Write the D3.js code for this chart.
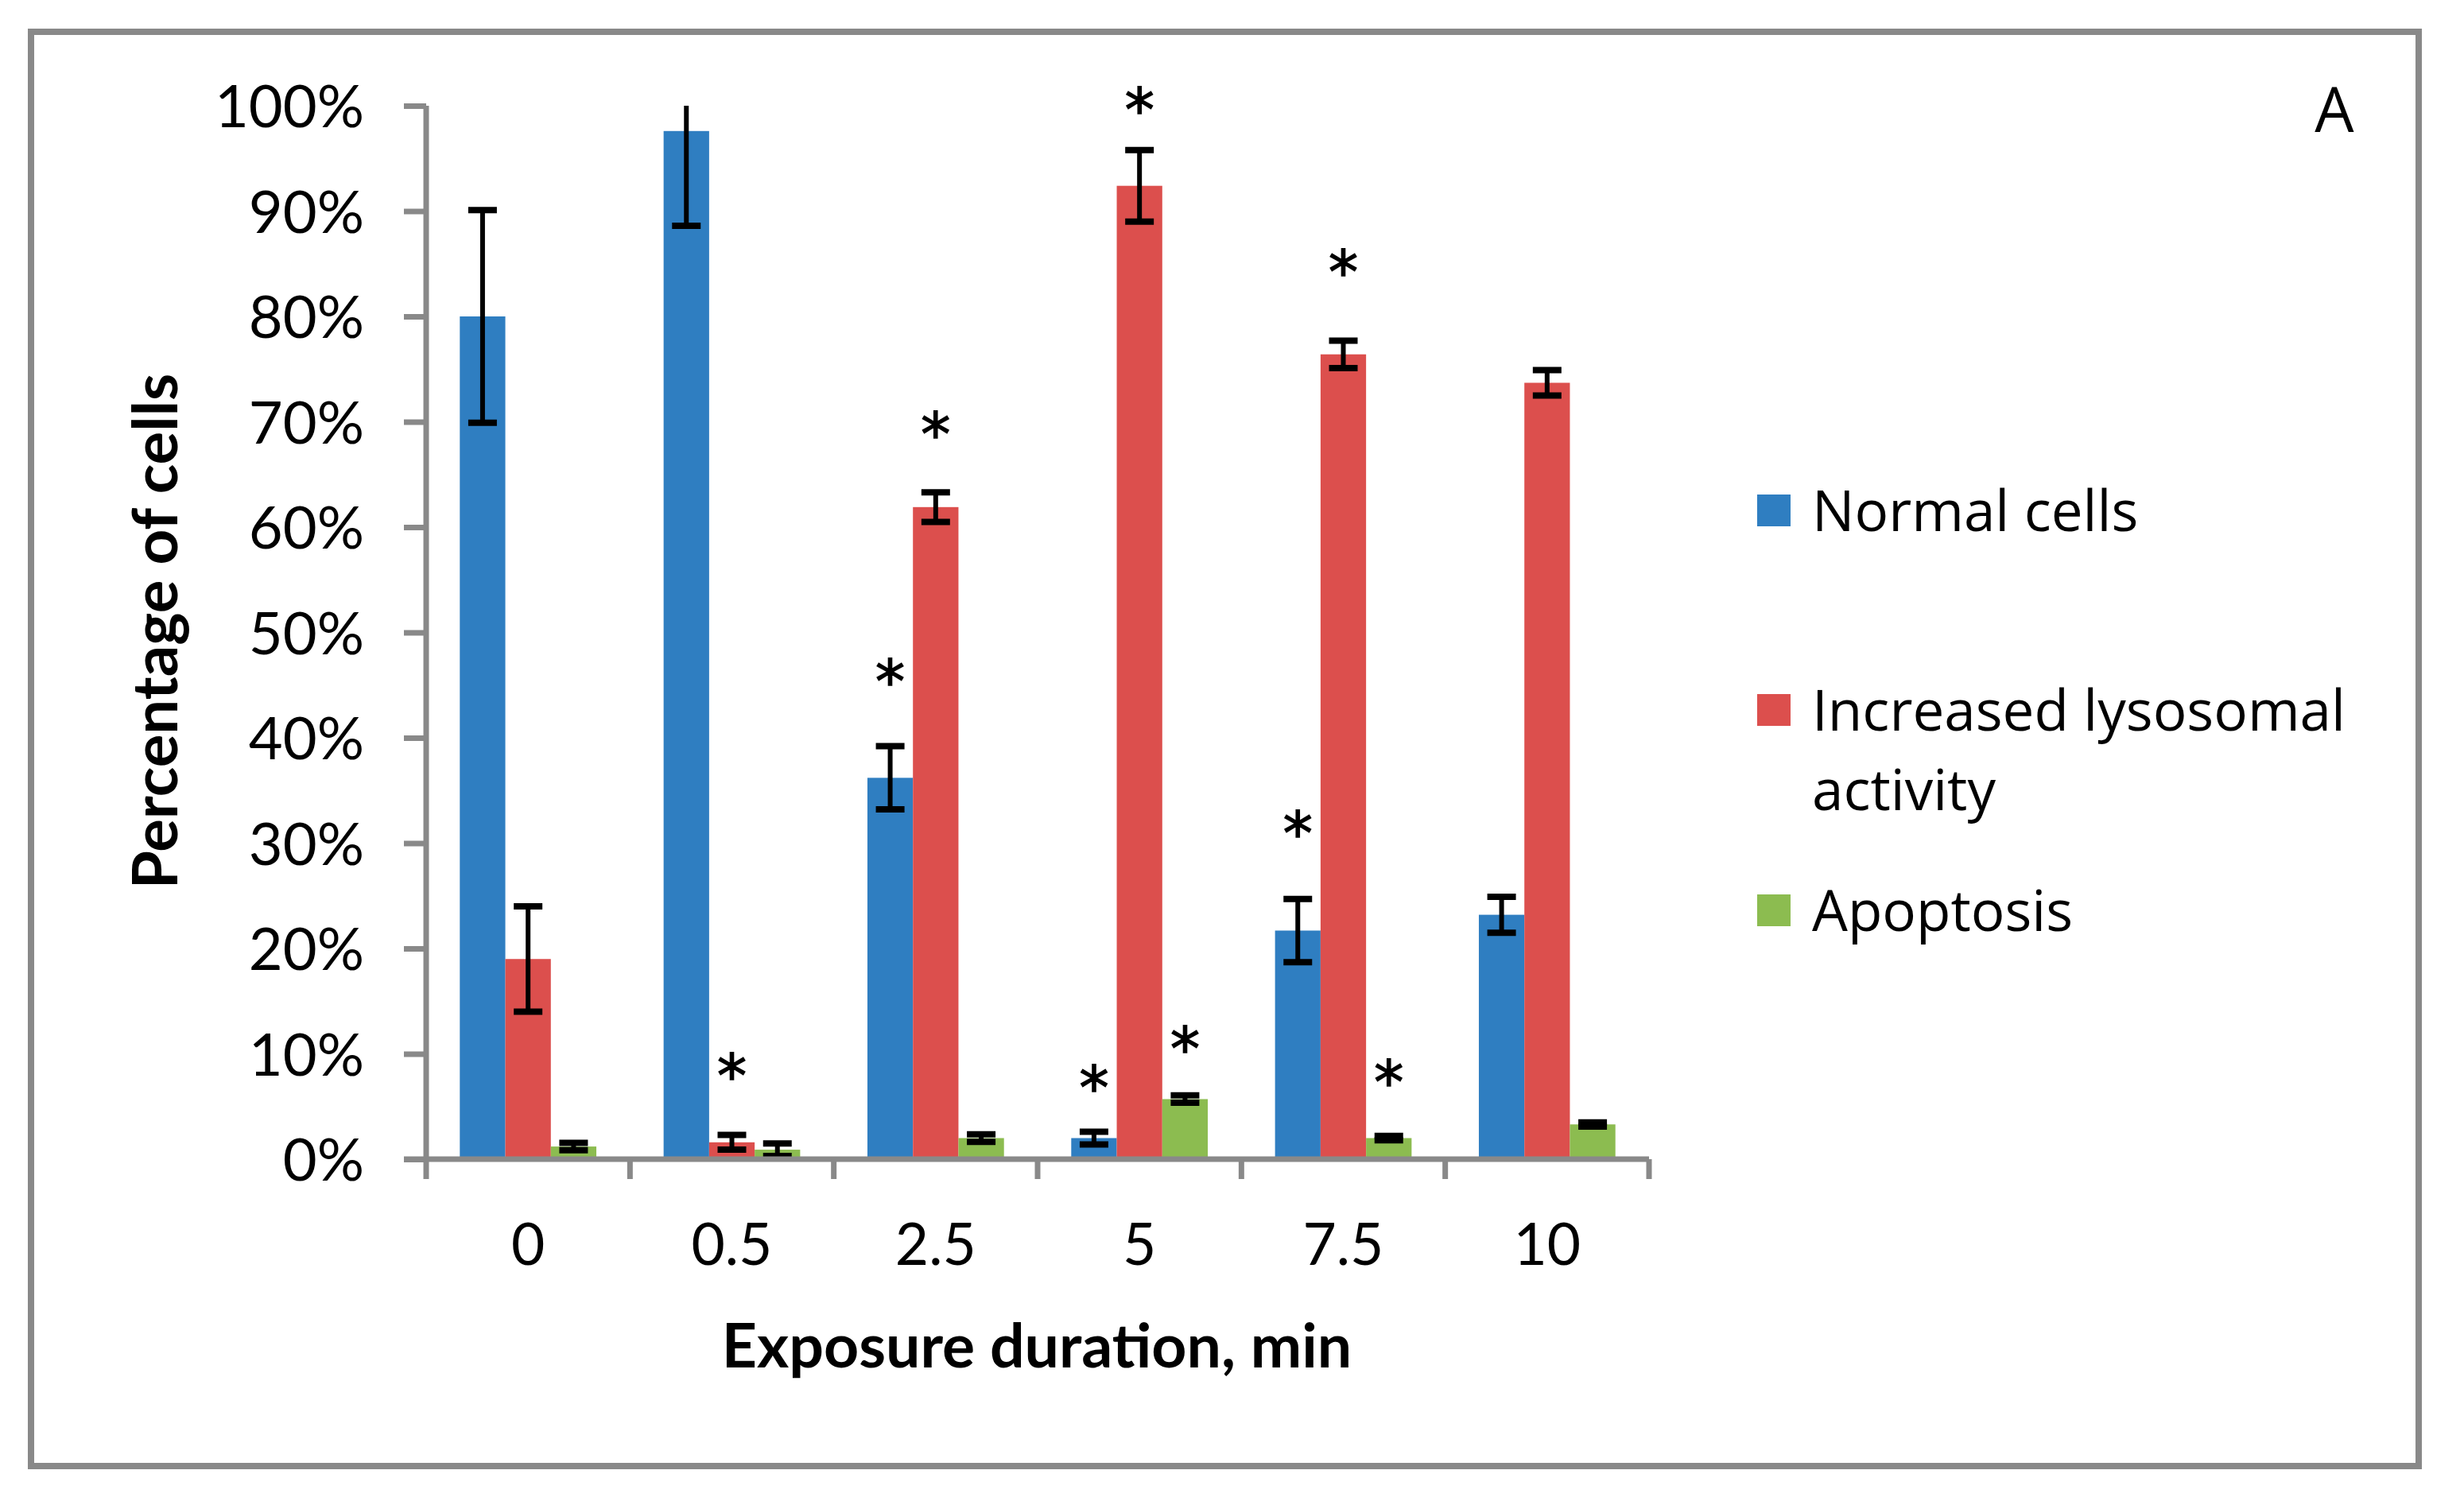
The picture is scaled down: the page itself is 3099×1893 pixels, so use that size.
<!DOCTYPE html>
<html>
<head>
<meta charset="utf-8">
<script src="https://cdn.jsdelivr.net/npm/d3@7"></script>
<style>
  html, body { margin: 0; padding: 0; background: #ffffff; }
  svg { display: block; }
</style>
</head>
<body>
<svg id="chart" width="3099" height="1893"></svg>
<script>
// ---------------- data ----------------
const categories = ["0", "0.5", "2.5", "5", "7.5", "10"];
const seriesNames = ["Normal cells", "Increased lysosomal activity", "Apoptosis"];
const legendLines = [["Normal cells"], ["Increased lysosomal", "activity"], ["Apoptosis"]];
const seriesColors = ["#2f7ec1", "#dc4f4d", "#8cbc50"];

const normalCells     = [80.0, 97.6, 36.2, 2.0, 21.7, 23.2];
const normalErr       = [10.1, 9.0, 3.0, 0.6, 3.0, 1.7];
const lysosomal       = [19.0, 1.6, 61.9, 92.4, 76.4, 73.7];
const lysosomalErr    = [5.0, 0.7, 1.4, 3.4, 1.3, 1.2];
const apoptosis       = [1.2, 0.9, 2.0, 5.7, 2.0, 3.3];
const apoptosisErr    = [0.35, 0.6, 0.35, 0.35, 0.2, 0.2];

// significance asterisks: level (%) of the star centre, null = none
const normalStars     = [null, null, 46.3, 7.7, 31.9, null];
const lysosomalStars  = [null, 8.9, 69.8, 100.6, 85.2, null];
const apoptosisStars  = [null, null, null, 11.4, 8.3, null];

const yTicks = [0, 10, 20, 30, 40, 50, 60, 70, 80, 90, 100];

const xTitle = "Exposure duration, min";
const yTitle = "Percentage of cells";
const panelLabel = "A";

// ---------------- build ----------------
const values = [normalCells, lysosomal, apoptosis];
const errors = [normalErr, lysosomalErr, apoptosisErr];
const stars  = [normalStars, lysosomalStars, apoptosisStars];

const rows = [];
categories.forEach((c, i) => {
  seriesNames.forEach((s, j) => {
    rows.push({cat: c, series: s, si: j, value: values[j][i], err: errors[j][i], star: stars[j][i]});
  });
});

const svg = d3.select("#chart");
const gray = "#898989";

// outer frame
svg.append("rect")
  .attr("x", 39).attr("y", 40).attr("width", 3003).attr("height", 1804)
  .attr("fill", "#ffffff").attr("stroke", gray).attr("stroke-width", 8);

const plotLeft = 536, plotRight = 2074, plotTop = 133, plotBottom = 1458;

const x0 = d3.scaleBand().domain(categories).range([plotLeft, plotRight])
  .paddingInner(0.33).paddingOuter(0.165);
const x1 = d3.scaleBand().domain(seriesNames).range([0, x0.bandwidth()]).padding(0);
const y = d3.scaleLinear().domain([0, 100]).range([plotBottom, plotTop]);

// bars
svg.append("g").selectAll("rect").data(rows).join("rect")
  .attr("x", d => x0(d.cat) + x1(d.series))
  .attr("y", d => y(d.value))
  .attr("width", x1.bandwidth())
  .attr("height", d => y(0) - y(d.value))
  .attr("fill", d => seriesColors[d.si]);

// error bars
const eg = svg.append("g").attr("stroke", "#000000");
const cx = d => x0(d.cat) + x1(d.series) + x1.bandwidth() / 2;
const capHalf = 18;
rows.forEach(d => {
  const hi = Math.min(100, d.value + d.err);
  const lo = Math.max(0, d.value - d.err);
  eg.append("line").attr("x1", cx(d)).attr("x2", cx(d))
    .attr("y1", y(hi)).attr("y2", y(lo)).attr("stroke-width", 6);
  if (d.value + d.err <= 100) {
    eg.append("line").attr("x1", cx(d) - capHalf).attr("x2", cx(d) + capHalf)
      .attr("y1", y(hi)).attr("y2", y(hi)).attr("stroke-width", 8);
  }
  eg.append("line").attr("x1", cx(d) - capHalf).attr("x2", cx(d) + capHalf)
    .attr("y1", y(lo)).attr("y2", y(lo)).attr("stroke-width", 8);
});

// asterisks
svg.append("g").selectAll("text").data(rows.filter(d => d.star !== null)).join("text")
  .attr("x", d => cx(d))
  .attr("y", d => y(d.star))
  .attr("dy", "0.52em")
  .attr("text-anchor", "middle")
  .attr("font-family", "DejaVu Sans")
  .attr("font-size", 74)
  .attr("stroke", "#000000").attr("stroke-width", 1.5)
  .attr("fill", "#000000")
  .text("*");

// y axis
const yAxis = svg.append("g").attr("transform", `translate(${plotLeft},0)`)
  .call(d3.axisLeft(y).tickValues(yTicks).tickSize(28).tickPadding(50)
    .tickFormat(d => d + "%"));
yAxis.select(".domain").attr("stroke", gray).attr("stroke-width", 7)
  .attr("d", `M0,${plotTop}V${plotBottom}`);
yAxis.selectAll(".tick line").attr("stroke", gray).attr("stroke-width", 7);
yAxis.selectAll(".tick text")
  .attr("font-family", "Lato").attr("font-size", 74).attr("fill", "#000000")
  .attr("dy", "0.36em").attr("x", -78);

// x axis
const boundaries = categories.map(c => x0(c) - x0.step() * x0.paddingInner() / 2)
  .concat([plotRight]);
const xg = svg.append("g");
xg.append("line").attr("x1", plotLeft - 28).attr("x2", plotRight)
  .attr("y1", plotBottom).attr("y2", plotBottom)
  .attr("stroke", gray).attr("stroke-width", 7);
xg.selectAll("line.tk").data(boundaries).join("line").attr("class", "tk")
  .attr("x1", d => d).attr("x2", d => d)
  .attr("y1", plotBottom).attr("y2", plotBottom + 25)
  .attr("stroke", gray).attr("stroke-width", 7);
xg.selectAll("text").data(categories).join("text")
  .attr("x", d => x0(d) + x0.bandwidth() / 2)
  .attr("y", 1591)
  .attr("text-anchor", "middle")
  .attr("font-family", "Lato").attr("font-size", 73).attr("fill", "#000000")
  .text(d => d);

// axis titles
svg.append("text")
  .attr("x", 1304).attr("y", 1720)
  .attr("text-anchor", "middle")
  .attr("font-family", "Lato").attr("font-weight", "bold").attr("font-size", 77)
  .attr("fill", "#000000")
  .text(xTitle);

svg.append("text")
  .attr("transform", "translate(223,794) rotate(-90)")
  .attr("text-anchor", "middle")
  .attr("font-family", "Lato").attr("font-weight", "bold").attr("font-size", 78)
  .attr("fill", "#000000")
  .text(yTitle);

// panel label
svg.append("text")
  .attr("x", 2936).attr("y", 166)
  .attr("text-anchor", "middle")
  .attr("font-family", "Open Sans").attr("font-size", 78).attr("fill", "#000000")
  .text(panelLabel);

// legend
const legendSwatchCenters = [642, 893, 1145];
const lg = svg.append("g");
seriesNames.forEach((s, i) => {
  const cy = legendSwatchCenters[i];
  lg.append("rect").attr("x", 2210).attr("y", cy - 20).attr("width", 42).attr("height", 40)
    .attr("fill", seriesColors[i]);
  const t = lg.append("text")
    .attr("x", 2279).attr("y", cy + 26)
    .attr("font-family", "Open Sans").attr("font-size", 71).attr("fill", "#000000");
  legendLines[i].forEach((line, k) => {
    t.append("tspan").attr("x", 2279).attr("dy", k === 0 ? 0 : 100).text(line);
  });
});
</script>
</body>
</html>
